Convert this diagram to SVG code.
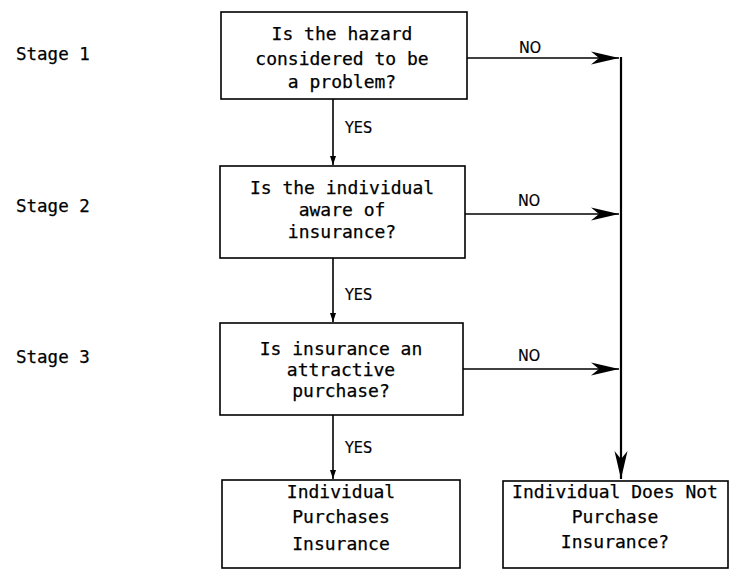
<svg xmlns="http://www.w3.org/2000/svg" width="731" height="573" viewBox="0 0 731 573">
<defs>
<style>
.box{fill:#fff;stroke:#000;stroke-width:1.6}
.t{font-family:"DejaVu Sans Mono","Liberation Mono",monospace;font-size:18px;fill:#000;stroke:#000;stroke-width:0.25;text-anchor:middle}
.st{font-family:"DejaVu Sans Mono","Liberation Mono",monospace;font-size:17.5px;fill:#000;stroke:#000;stroke-width:0.25}
.lb{font-family:"DejaVu Sans Condensed","DejaVu Sans",sans-serif;font-size:16px;fill:#000;stroke:#000;stroke-width:0.2}
.ln{fill:none;stroke:#000;stroke-width:1.6}
.bl{fill:none;stroke:#000;stroke-width:2.2}
</style>
<marker id="big" markerUnits="userSpaceOnUse" markerWidth="30" markerHeight="14" viewBox="-28 -7 30 14" refX="0" refY="0" orient="auto">
<path d="M0,0 L-28,-6.5 L-20,0 L-28,6.5 Z" fill="#000"/>
</marker>
<marker id="small" markerUnits="userSpaceOnUse" markerWidth="10" markerHeight="8" viewBox="-9 -4 10 8" refX="0" refY="0" orient="auto">
<path d="M0,0 L-9,-3 L-9,3 Z" fill="#000"/>
</marker>
</defs>
<g id="stages">
<text class="st" x="16" y="60">Stage 1</text>
<text class="st" x="16" y="212">Stage 2</text>
<text class="st" x="16" y="363">Stage 3</text>
</g>
<g id="connectors">
<line class="ln" x1="333" y1="99" x2="333" y2="165" marker-end="url(#small)"/>
<line class="ln" x1="333" y1="258" x2="333" y2="322" marker-end="url(#small)"/>
<line class="ln" x1="333" y1="415" x2="333" y2="479" marker-end="url(#small)"/>
<line class="ln" x1="467" y1="58" x2="619" y2="58" marker-end="url(#big)"/>
<line class="ln" x1="465" y1="214" x2="619" y2="214" marker-end="url(#big)"/>
<line class="ln" x1="463" y1="369" x2="619" y2="369" marker-end="url(#big)"/>
<line class="bl" x1="621" y1="57" x2="621" y2="479" marker-end="url(#big)"/>
<text class="lb" x="345" y="133">YES</text>
<text class="lb" x="345" y="300">YES</text>
<text class="lb" x="345" y="453">YES</text>
<text class="lb" x="519" y="53">NO</text>
<text class="lb" x="518" y="206">NO</text>
<text class="lb" x="518" y="361">NO</text>
</g>
<g id="q1">
<rect class="box" x="221" y="12" width="246" height="87"/>
<text class="t" x="342" y="40">Is the hazard</text>
<text class="t" x="342" y="65">considered to be</text>
<text class="t" x="342" y="88">a problem?</text>
</g>
<g id="q2">
<rect class="box" x="220" y="166" width="245" height="92"/>
<text class="t" x="342" y="194">Is the individual</text>
<text class="t" x="342" y="216">aware of</text>
<text class="t" x="342" y="238">insurance?</text>
</g>
<g id="q3">
<rect class="box" x="220" y="323" width="243" height="92"/>
<text class="t" x="341" y="355">Is insurance an</text>
<text class="t" x="341" y="376">attractive</text>
<text class="t" x="341" y="397">purchase?</text>
</g>
<g id="buy">
<rect class="box" x="222" y="480" width="238" height="88"/>
<text class="t" x="341" y="498">Individual</text>
<text class="t" x="341" y="523">Purchases</text>
<text class="t" x="341" y="550">Insurance</text>
</g>
<g id="nobuy">
<rect class="box" x="503" y="481" width="225" height="87"/>
<text class="t" x="615" y="498">Individual Does Not</text>
<text class="t" x="615" y="523">Purchase</text>
<text class="t" x="615" y="548">Insurance?</text>
</g>
</svg>
